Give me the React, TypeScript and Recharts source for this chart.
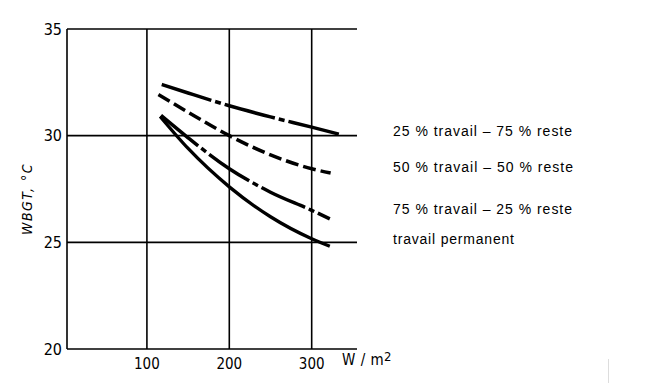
import React from "react";
import { LineChart, Line, XAxis, YAxis, CartesianGrid } from "recharts";

const xTicks = [100, 200, 300];
const yTicks = [20, 25, 30, 35];

const travail25 = [
  { x: 118, y: 32.4 },
  { x: 150, y: 32.0 },
  { x: 200, y: 31.4 },
  { x: 250, y: 30.88 },
  { x: 300, y: 30.4 },
  { x: 335, y: 30.05 },
];
const travail50 = [
  { x: 114, y: 31.93 },
  { x: 150, y: 31.1 },
  { x: 200, y: 30.0 },
  { x: 250, y: 29.1 },
  { x: 300, y: 28.45 },
  { x: 323, y: 28.25 },
];
const travail75 = [
  { x: 117, y: 30.95 },
  { x: 150, y: 29.9 },
  { x: 200, y: 28.45 },
  { x: 250, y: 27.35 },
  { x: 300, y: 26.5 },
  { x: 322, y: 26.1 },
];
const permanent = [
  { x: 116, y: 30.9 },
  { x: 150, y: 29.4 },
  { x: 200, y: 27.6 },
  { x: 250, y: 26.2 },
  { x: 300, y: 25.17 },
  { x: 322, y: 24.82 },
];

const legendLabels = [
  "25 % travail \u2013 75 % reste",
  "50 % travail \u2013 50 % reste",
  "75 % travail \u2013 25 % reste",
  "travail permanent",
];
const legendY = [136, 172, 214, 244];
const legendLen = [179, 180, 179, 121];

const tickFont = { fontFamily: "DejaVu Sans Condensed", fontSize: 15, fill: "#000" };

export default function App() {
  return (
    <div style={{ position: "absolute", left: 0, top: 0, width: 650, height: 383, background: "#fff" }}>
      <LineChart
        width={650}
        height={383}
        margin={{ top: 29, right: 293, left: 0, bottom: 0 }}
      >
        <CartesianGrid stroke="#000" strokeWidth={1.6} horizontalValues={[25, 30, 35]} verticalValues={xTicks} />
        <XAxis
          type="number"
          dataKey="x"
          domain={[3, 355]}
          ticks={xTicks}
          allowDataOverflow
          height={34}
          axisLine={{ stroke: "#000", strokeWidth: 1.6 }}
          tickLine={false}
          tickSize={0}
          tickMargin={9}
          tick={tickFont}
        />
        <YAxis
          type="number"
          domain={[20, 35]}
          ticks={yTicks}
          width={67}
          axisLine={{ stroke: "#000", strokeWidth: 1.6 }}
          tickLine={false}
          tickSize={0}
          tickMargin={5}
          tick={{ ...tickFont, fontSize: 16 }}
        />
        <Line data={travail25} dataKey="y" type="monotone" stroke="#000" strokeWidth={3.5} strokeDasharray="52 4 6 4" dot={false} isAnimationActive={false} />
        <Line data={travail50} dataKey="y" type="monotone" stroke="#000" strokeWidth={3.5} strokeDasharray="13 5" dot={false} isAnimationActive={false} />
        <Line data={travail75} dataKey="y" type="monotone" stroke="#000" strokeWidth={3.5} strokeDasharray="48 4 6 4" dot={false} isAnimationActive={false} />
        <Line data={permanent} dataKey="y" type="monotone" stroke="#000" strokeWidth={3.3} dot={false} isAnimationActive={false} />
      </LineChart>
      <svg width={650} height={383} style={{ position: "absolute", left: 0, top: 0, pointerEvents: "none" }}>
        {legendLabels.map((t, i) => (
          <text
            key={i}
            x={393}
            y={legendY[i]}
            textLength={legendLen[i]}
            lengthAdjust="spacing"
            fontFamily="Liberation Sans, Arial"
            fontSize={14}
            fill="#000"
          >
            {t}
          </text>
        ))}
        <text x={342} y={365} fontFamily="DejaVu Sans Condensed" fontSize={15} fill="#000" letterSpacing={0.5}>
          W / m<tspan dy={-4} fontSize={13}>2</tspan>
        </text>
        <text
          transform="translate(32,199) rotate(-90)"
          textAnchor="middle"
          fontFamily="DejaVu Sans Condensed"
          fontStyle="italic"
          fontSize={14}
          letterSpacing={1.5}
          fill="#000"
        >
          WBGT, °C
        </text>
        <line x1={608.5} y1={359} x2={608.5} y2={383} stroke="#ddd" strokeWidth={1} />
      </svg>
    </div>
  );
}
